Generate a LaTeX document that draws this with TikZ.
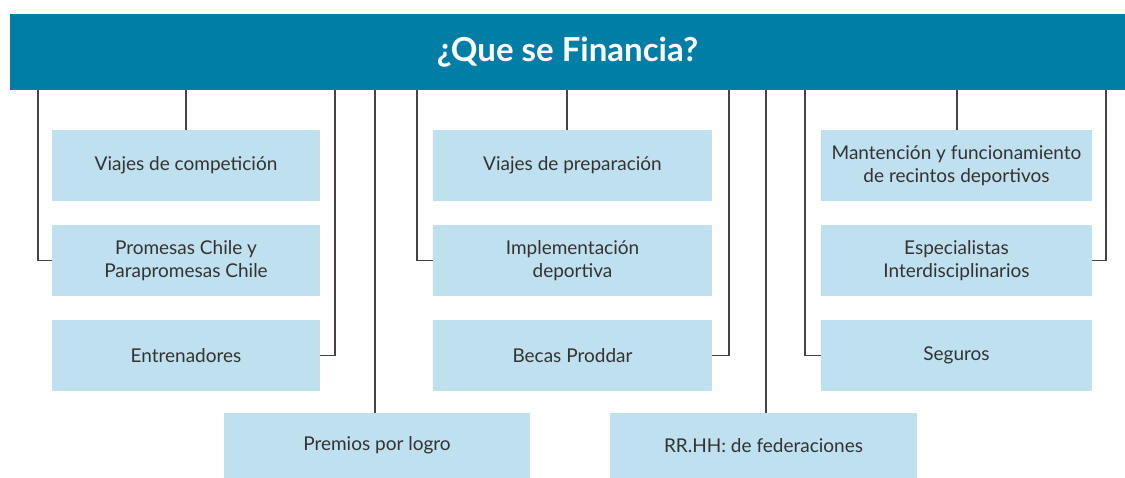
\documentclass[tikz,border=0pt]{standalone}
\usepackage{fontspec}
\setmainfont{Lato}
\definecolor{hdrblue}{HTML}{007EA6}
\definecolor{boxblue}{HTML}{BFE0EF}
\definecolor{txtgray}{HTML}{333333}
\definecolor{linegray}{HTML}{444444}
\begin{document}
\begin{tikzpicture}[x=1pt,y=-1pt,
  hdrbox/.style={fill=hdrblue,draw=none,text=white,font=\fontsize{33}{38}\selectfont\bfseries,inner sep=0pt},
  itembox/.style={fill=boxblue,draw=none,text=txtgray,font=\fontsize{19}{23.5}\selectfont,align=center,inner sep=0pt},
  conn/.style={draw=linegray,line width=1.3pt}]
\useasboundingbox (0,0) rectangle (1125,478);
\node[hdrbox,minimum width=1115pt,minimum height=76pt] (hdr) at (567.5,52) {¿Que se Financia?};
% column 1
\node[itembox,minimum width=268pt,minimum height=71pt] (a1) at (186,165.5) {Viajes de competición};
\node[itembox,minimum width=268pt,minimum height=71pt] (a2) at (186,260.5) {Promesas Chile y\\Parapromesas Chile};
\node[itembox,minimum width=268pt,minimum height=71pt] (a3) at (186,355.5) {Entrenadores};
% column 2
\node[itembox,minimum width=279pt,minimum height=71pt] (b1) at (572.5,165.5) {Viajes de preparación};
\node[itembox,minimum width=279pt,minimum height=71pt] (b2) at (572.5,260.5) {Implementación\\deportiva};
\node[itembox,minimum width=279pt,minimum height=71pt] (b3) at (572.5,355.5) {Becas Proddar};
% column 3
\node[itembox,minimum width=271pt,minimum height=71pt] (c1) at (956.5,165.5) {Mantención y funcionamiento\\de recintos deportivos};
\node[itembox,minimum width=271pt,minimum height=71pt] (c2) at (956.5,260.5) {Especialistas\\Interdisciplinarios};
\node[itembox,minimum width=271pt,minimum height=71pt] (c3) at (956.5,355.5) {Seguros};
% bottom
\node[itembox,minimum width=306pt,minimum height=65pt] (d1) at (377,445.5) {Premios por logro};
\node[itembox,minimum width=307pt,minimum height=65pt] (d2) at (763.5,445.5) {RR.HH: de federaciones};
% connectors
\draw[conn] (hdr.south -| 38,0) |- (a2.west);
\draw[conn] (hdr.south -| a1.north) -- (a1.north);
\draw[conn] (hdr.south -| 335,0) |- (a3.east);
\draw[conn] (hdr.south -| 375,0) -- (d1.north -| 375,0);
\draw[conn] (hdr.south -| 417,0) |- (b2.west);
\draw[conn] (hdr.south -| 567,0) -- (b1.north -| 567,0);
\draw[conn] (hdr.south -| 729,0) |- (b3.east);
\draw[conn] (hdr.south -| 766,0) -- (d2.north -| 766,0);
\draw[conn] (hdr.south -| 805,0) |- (c3.west);
\draw[conn] (hdr.south -| 957,0) -- (c1.north -| 957,0);
\draw[conn] (hdr.south -| 1106,0) |- (c2.east);
\end{tikzpicture}
\end{document}
